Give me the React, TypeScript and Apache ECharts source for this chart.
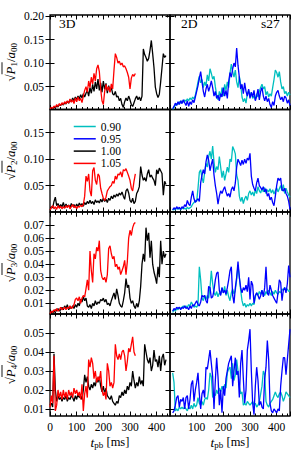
import React, { useEffect, useRef } from "react";
import * as echarts from "echarts";

// time sampling (ms)
const T_STEP = 5;
const LEFT_T0 = 0;   // 3D runs start
const RIGHT_T0 = 10; // 2D runs start

// x-axis tick labels
const X_TICKS = [0, 100, 200, 300, 400];
const LEGEND_NAMES = ["0.90", "0.95", "1.00", "1.05"];

// ---- Row 1: sqrt(P1)/a00 ----
const P1_100 = [
  0.002, 0.004, 0.003, 0.006, 0.005, 0.009, 0.007, 0.012, 0.010, 0.014, 0.011, 0.016, 0.013,
  0.019, 0.015, 0.022, 0.018, 0.026, 0.020, 0.028, 0.022, 0.030, 0.024, 0.033, 0.026, 0.035, 0.028, 0.036,
  0.042, 0.030, 0.048, 0.036, 0.055, 0.040, 0.060, 0.045, 0.066, 0.042, 0.058, 0.038, 0.062, 0.044, 0.057, 0.036, 0.052, 0.040, 0.048, 0.035,
  0.032, 0.040, 0.028, 0.030, 0.020, 0.025, 0.012, 0.006,
  0.018, 0.026, 0.020, 0.030, 0.022, 0.012, 0.008, 0.016, 0.024, 0.030, 0.022, 0.028, 0.020, 0.030,
  0.130, 0.118, 0.112, 0.104, 0.110, 0.127, 0.148, 0.120, 0.090, 0.049, 0.035, 0.027, 0.034, 0.060, 0.090, 0.120, 0.112, 0.116,
];
const P1_105 = [
  0.003, 0.006, 0.004, 0.009, 0.006, 0.012, 0.008, 0.014, 0.010, 0.016, 0.012, 0.018, 0.014,
  0.020, 0.015, 0.024, 0.017, 0.022, 0.014, 0.026, 0.018, 0.028, 0.020, 0.025, 0.016, 0.030,
  0.042, 0.050, 0.038, 0.062, 0.048, 0.070, 0.056, 0.078, 0.062, 0.088, 0.096, 0.082, 0.045,
  0.020, 0.012, 0.040, 0.055, 0.042, 0.050, 0.038, 0.056, 0.045, 0.085,
  0.120, 0.112, 0.100, 0.104, 0.096, 0.100, 0.092, 0.094, 0.088, 0.080, 0.070, 0.045, 0.068, 0.076, 0.072, 0.078,
];
const P1_095 = [
  0.003, 0.008, 0.015, 0.010, 0.018, 0.012, 0.020, 0.014, 0.022,
  0.016, 0.010, 0.020, 0.008, 0.018, 0.012, 0.022, 0.016, 0.028, 0.040,
  0.052, 0.068, 0.082, 0.060, 0.040, 0.028, 0.045, 0.055, 0.040, 0.050,
  0.062, 0.048, 0.030, 0.040, 0.025, 0.032, 0.020, 0.035, 0.028, 0.048,
  0.030, 0.042, 0.025, 0.060, 0.080, 0.070, 0.088, 0.100, 0.092, 0.132,
  0.095, 0.070, 0.045, 0.055, 0.035, 0.058, 0.040, 0.030, 0.045, 0.025,
  0.038, 0.028, 0.042, 0.020, 0.030, 0.045, 0.022, 0.040, 0.048, 0.030,
  0.020, 0.030, 0.018, 0.025, 0.012, 0.006, 0.018, 0.010, 0.030, 0.038,
  0.042, 0.030, 0.022, 0.028, 0.018, 0.030, 0.026, 0.015, 0.022, 0.010,
];
const P1_090 = [
  0.002, 0.006, 0.010, 0.014, 0.012, 0.018, 0.015, 0.020, 0.017,
  0.022, 0.019, 0.024, 0.020, 0.026, 0.022, 0.028, 0.024, 0.032, 0.045,
  0.060, 0.072, 0.058, 0.065, 0.048, 0.060, 0.052, 0.075, 0.062, 0.088,
  0.078, 0.066, 0.072, 0.050, 0.032, 0.022, 0.040, 0.028, 0.048, 0.030,
  0.055, 0.042, 0.060, 0.048, 0.078, 0.098, 0.082, 0.070, 0.085, 0.060,
  0.048, 0.072, 0.055, 0.028, 0.018, 0.025, 0.015, 0.035, 0.042, 0.030,
  0.038, 0.025, 0.030, 0.022, 0.035, 0.028, 0.040, 0.048, 0.055, 0.045,
  0.050, 0.032, 0.040, 0.028, 0.035, 0.030, 0.048, 0.065, 0.085, 0.080,
  0.070, 0.082, 0.060, 0.045, 0.050, 0.035, 0.040, 0.030, 0.038, 0.032,
];

// ---- Row 2: sqrt(P2)/a00 ----
const P2_100 = [
  0.003, 0.010, 0.008, 0.020, 0.028, 0.012, 0.016, 0.009, 0.014, 0.010,
  0.018, 0.008, 0.015, 0.010, 0.013, 0.008, 0.016, 0.011, 0.014, 0.009,
  0.015, 0.010, 0.017, 0.012, 0.016, 0.011, 0.018, 0.014, 0.020, 0.016,
  0.022, 0.016, 0.020, 0.014, 0.023, 0.018, 0.021, 0.017, 0.024, 0.019,
  0.026, 0.020, 0.024, 0.018, 0.026, 0.022, 0.030, 0.025, 0.032, 0.028,
  0.034, 0.030, 0.036, 0.032, 0.038, 0.030, 0.024, 0.040, 0.044, 0.036,
  0.022, 0.018, 0.026, 0.016, 0.020, 0.035, 0.040, 0.048, 0.086, 0.070,
  0.060, 0.065, 0.058, 0.072, 0.080, 0.066, 0.070, 0.064, 0.060, 0.050,
  0.080, 0.072, 0.083, 0.078, 0.073, 0.032, 0.058, 0.052,
];
const P2_105 = [
  0.004, 0.008, 0.012, 0.006, 0.010, 0.005, 0.012, 0.007, 0.011, 0.006, 0.010, 0.007, 0.012,
  0.008, 0.013, 0.006, 0.010, 0.014, 0.008, 0.012, 0.006, 0.011, 0.009, 0.013, 0.010, 0.014,
  0.030, 0.068, 0.058, 0.072, 0.040, 0.030, 0.078, 0.084, 0.060, 0.052, 0.072, 0.068, 0.045,
  0.035, 0.026, 0.022, 0.028, 0.040, 0.044, 0.048, 0.050, 0.058, 0.054, 0.068, 0.062, 0.072,
  0.070, 0.076, 0.066, 0.080, 0.078, 0.082, 0.075, 0.068, 0.060, 0.045, 0.040, 0.058, 0.072,
];
const P2_095 = [
  0.004, 0.008, 0.005, 0.010, 0.006, 0.009, 0.005, 0.010, 0.007,
  0.014, 0.010, 0.022, 0.015, 0.012, 0.028, 0.040, 0.025, 0.018, 0.022,
  0.025, 0.020, 0.055, 0.070, 0.080, 0.072, 0.095, 0.108, 0.098, 0.078,
  0.090, 0.100, 0.070, 0.050, 0.035, 0.015, 0.030, 0.040, 0.035, 0.042,
  0.048, 0.038, 0.030, 0.035, 0.028, 0.042, 0.048, 0.040, 0.055, 0.085,
  0.100, 0.094, 0.088, 0.098, 0.090, 0.100, 0.092, 0.102, 0.098, 0.111,
  0.068, 0.052, 0.045, 0.040, 0.055, 0.064, 0.050, 0.046, 0.042, 0.048,
  0.038, 0.044, 0.030, 0.035, 0.023, 0.028, 0.018, 0.012, 0.030, 0.050,
  0.064, 0.060, 0.064, 0.042, 0.040, 0.045, 0.035, 0.030, 0.020, 0.005,
];
const P2_090 = [
  0.003, 0.006, 0.004, 0.008, 0.005, 0.007, 0.004, 0.008, 0.006,
  0.007, 0.005, 0.009, 0.006, 0.008, 0.010, 0.015, 0.018, 0.022, 0.020,
  0.045, 0.075, 0.080, 0.065, 0.055, 0.075, 0.092, 0.085, 0.105, 0.115,
  0.100, 0.125, 0.095, 0.075, 0.086, 0.080, 0.105, 0.085, 0.065, 0.078,
  0.060, 0.072, 0.085, 0.075, 0.100, 0.095, 0.124, 0.118, 0.110, 0.070,
  0.060, 0.030, 0.020, 0.028, 0.016, 0.025, 0.030, 0.022, 0.035, 0.040,
  0.032, 0.038, 0.030, 0.042, 0.035, 0.048, 0.040, 0.036, 0.045, 0.038,
  0.046, 0.035, 0.042, 0.038, 0.044, 0.036, 0.042, 0.034, 0.040, 0.046,
  0.038, 0.044, 0.050, 0.040, 0.052, 0.035, 0.045, 0.038, 0.032, 0.028,
];

// ---- Row 3: sqrt(P3)/a00 ----
const P3_100 = [
  0.002, 0.003, 0.004, 0.003, 0.005, 0.004, 0.006, 0.004, 0.005, 0.007,
  0.005, 0.008, 0.006, 0.009, 0.005, 0.007, 0.006, 0.008, 0.006, 0.009,
  0.007, 0.010, 0.008, 0.013, 0.011, 0.015, 0.012, 0.014, 0.008, 0.007,
  0.009, 0.006, 0.010, 0.008, 0.012, 0.009, 0.011, 0.010, 0.013, 0.012,
  0.014, 0.011, 0.013, 0.009, 0.010, 0.008, 0.012, 0.015, 0.018, 0.013,
  0.021, 0.016, 0.010, 0.008, 0.007, 0.012, 0.018, 0.029, 0.022, 0.024,
  0.014, 0.010, 0.012, 0.008, 0.006, 0.010, 0.007, 0.012, 0.023, 0.040,
  0.048, 0.042, 0.068, 0.058, 0.064, 0.045, 0.058, 0.040, 0.034, 0.030,
  0.025, 0.038, 0.030, 0.058, 0.040, 0.050, 0.045, 0.048,
];
const P3_105 = [
  0.002, 0.004, 0.003, 0.005, 0.004, 0.006, 0.004, 0.005, 0.007, 0.005, 0.006, 0.007, 0.005,
  0.007, 0.006, 0.008, 0.006, 0.007, 0.009, 0.013, 0.014, 0.012, 0.015, 0.010, 0.014, 0.016,
  0.015, 0.021, 0.028, 0.020, 0.050, 0.035, 0.026, 0.048, 0.044, 0.053, 0.050, 0.058, 0.035,
  0.030, 0.028, 0.030, 0.026, 0.032, 0.052, 0.054, 0.048, 0.044, 0.046, 0.038, 0.040, 0.036,
  0.038, 0.032, 0.035, 0.038, 0.043, 0.032, 0.042, 0.060, 0.066, 0.062, 0.068, 0.071, 0.072,
];
const P3_095 = [
  0.004, 0.006, 0.005, 0.007, 0.006, 0.007, 0.005, 0.007, 0.006,
  0.008, 0.006, 0.007, 0.005, 0.008, 0.006, 0.009, 0.008, 0.010, 0.012,
  0.009, 0.008, 0.011, 0.016, 0.015, 0.016, 0.012, 0.010, 0.023, 0.022,
  0.014, 0.015, 0.020, 0.028, 0.033, 0.034, 0.020, 0.016, 0.022, 0.018,
  0.020, 0.017, 0.022, 0.028, 0.035, 0.038, 0.016, 0.010, 0.022, 0.030,
  0.042, 0.030, 0.022, 0.018, 0.022, 0.020, 0.024, 0.019, 0.030, 0.013,
  0.027, 0.024, 0.010, 0.016, 0.018, 0.016, 0.013, 0.016, 0.020, 0.015,
  0.022, 0.038, 0.018, 0.016, 0.024, 0.020, 0.016, 0.014, 0.012, 0.010,
  0.018, 0.028, 0.026, 0.012, 0.020, 0.022, 0.018, 0.025, 0.039, 0.030,
];
const P3_090 = [
  0.003, 0.005, 0.004, 0.006, 0.005, 0.007, 0.006, 0.007, 0.008,
  0.007, 0.008, 0.007, 0.009, 0.008, 0.011, 0.009, 0.007, 0.008, 0.007,
  0.009, 0.038, 0.028, 0.014, 0.012, 0.016, 0.013, 0.016, 0.014, 0.022,
  0.035, 0.025, 0.018, 0.016, 0.019, 0.015, 0.018, 0.017, 0.022, 0.018,
  0.023, 0.016, 0.020, 0.015, 0.012, 0.018, 0.021, 0.017, 0.020, 0.028,
  0.039, 0.030, 0.020, 0.012, 0.008, 0.010, 0.007, 0.009, 0.008, 0.010,
  0.008, 0.010, 0.009, 0.015, 0.018, 0.016, 0.019, 0.017, 0.020, 0.018,
  0.016, 0.019, 0.017, 0.020, 0.018, 0.016, 0.019, 0.017, 0.020, 0.018,
  0.017, 0.019, 0.018, 0.021, 0.020, 0.022, 0.020, 0.021, 0.019, 0.020,
];

// ---- Row 4: sqrt(P4)/a00 ----
const P4_100 = [
  0.012, 0.013, 0.011, 0.039, 0.020, 0.014, 0.017, 0.015, 0.016, 0.014,
  0.016, 0.015, 0.017, 0.014, 0.016, 0.015, 0.017, 0.016, 0.014, 0.017,
  0.015, 0.018, 0.016, 0.017, 0.015, 0.020, 0.028, 0.024, 0.027, 0.022,
  0.020, 0.023, 0.021, 0.024, 0.022, 0.026, 0.024, 0.027, 0.022, 0.019,
  0.022, 0.018, 0.021, 0.017, 0.016, 0.015, 0.017, 0.014, 0.013, 0.012,
  0.014, 0.013, 0.017, 0.016, 0.019, 0.017, 0.020, 0.018, 0.022, 0.020,
  0.024, 0.022, 0.030, 0.025, 0.021, 0.024, 0.022, 0.027, 0.023, 0.025,
  0.022, 0.044, 0.040, 0.036, 0.034, 0.037, 0.030, 0.033, 0.041, 0.035,
  0.036, 0.032, 0.038, 0.030, 0.037, 0.039, 0.033, 0.036,
];
const P4_105 = [
  0.011, 0.017, 0.013, 0.038, 0.009, 0.012, 0.020, 0.016, 0.019, 0.015, 0.020, 0.016, 0.019,
  0.015, 0.020, 0.017, 0.019, 0.016, 0.021, 0.018, 0.020, 0.017, 0.019, 0.015, 0.023, 0.009,
  0.018, 0.022, 0.016, 0.036, 0.032, 0.037, 0.034, 0.026, 0.030, 0.024, 0.027, 0.025, 0.030,
  0.020, 0.017, 0.019, 0.015, 0.034, 0.030, 0.022, 0.024, 0.021, 0.024, 0.044, 0.038, 0.036,
  0.039, 0.036, 0.040, 0.041, 0.038, 0.030, 0.035, 0.042, 0.040, 0.044, 0.048, 0.040, 0.038,
];
const P4_095 = [
  0.008, 0.009, 0.012, 0.016, 0.017, 0.011, 0.015, 0.014, 0.016,
  0.010, 0.016, 0.017, 0.010, 0.015, 0.023, 0.025, 0.014, 0.020, 0.024,
  0.029, 0.018, 0.010, 0.018, 0.020, 0.016, 0.032, 0.031, 0.036, 0.041,
  0.034, 0.027, 0.010, 0.025, 0.037, 0.027, 0.012, 0.020, 0.008, 0.022,
  0.017, 0.026, 0.030, 0.034, 0.036, 0.038, 0.022, 0.030, 0.037, 0.028,
  0.030, 0.016, 0.034, 0.041, 0.026, 0.013, 0.020, 0.041, 0.046, 0.052,
  0.030, 0.013, 0.007, 0.022, 0.032, 0.025, 0.012, 0.014, 0.011, 0.010,
  0.026, 0.032, 0.046, 0.036, 0.013, 0.009, 0.008, 0.010, 0.009, 0.008,
  0.010, 0.009, 0.022, 0.030, 0.037, 0.037, 0.028, 0.036, 0.044, 0.052,
];
const P4_090 = [
  0.029, 0.024, 0.009, 0.010, 0.009, 0.011, 0.010, 0.011, 0.010,
  0.011, 0.010, 0.009, 0.011, 0.010, 0.012, 0.010, 0.013, 0.011, 0.012,
  0.016, 0.013, 0.012, 0.014, 0.012, 0.015, 0.016, 0.015, 0.020, 0.029,
  0.027, 0.016, 0.018, 0.017, 0.020, 0.018, 0.021, 0.019, 0.022, 0.020,
  0.023, 0.021, 0.029, 0.031, 0.032, 0.026, 0.034, 0.025, 0.028, 0.036,
  0.030, 0.022, 0.018, 0.019, 0.012, 0.013, 0.012, 0.014, 0.013, 0.012,
  0.013, 0.014, 0.012, 0.013, 0.011, 0.012, 0.014, 0.018, 0.022, 0.030,
  0.028, 0.014, 0.012, 0.011, 0.013, 0.014, 0.015, 0.017, 0.019, 0.017,
  0.016, 0.018, 0.019, 0.017, 0.014, 0.016, 0.019, 0.018, 0.017, 0.016,
];

// y-axis tick labels per row
const Y_TICKS = [
  [0.05, 0.1, 0.15, 0.2],
  [0.05, 0.1, 0.15],
  [0.01, 0.02, 0.03, 0.04, 0.05, 0.06, 0.07],
  [0.01, 0.02, 0.03, 0.04, 0.05],
];
const Y_RANGES = [
  [0.0015, 0.202],
  [0, 0.194],
  [0.0018, 0.08],
  [0.0063, 0.06],
];

const ROWS = [
  { idx: "1", c090: P1_090, c095: P1_095, c100: P1_100, c105: P1_105 },
  { idx: "2", c090: P2_090, c095: P2_095, c100: P2_100, c105: P2_105 },
  { idx: "3", c090: P3_090, c095: P3_095, c100: P3_100, c105: P3_105 },
  { idx: "4", c090: P4_090, c095: P4_095, c100: P4_100, c105: P4_105 },
];

const COLORS: Record<string, string> = {
  "0.90": "#00bfbf",
  "0.95": "#0000ff",
  "1.00": "#000000",
  "1.05": "#ff0000",
};

// layout (px)
const COL_LEFT = [50, 170];
const COL_W = 120;
const ROW_TOP = [15, 109.5, 212, 314];
const ROW_H = [94.5, 102.5, 102, 102];

const FONT = "Liberation Serif";

function toPairs(t0: number, vals: number[]) {
  return vals.map((v, i) => [t0 + i * T_STEP, v]);
}

function buildOption() {
  const grid: any[] = [];
  const xAxis: any[] = [];
  const yAxis: any[] = [];
  const series: any[] = [];

  const tickStyle = { color: "#000", width: 1 };

  ROWS.forEach((row, r) => {
    [0, 1].forEach((c) => {
      const g = r * 2 + c;
      grid.push({
        left: COL_LEFT[c],
        top: ROW_TOP[r],
        width: COL_W,
        height: ROW_H[r],
        show: true,
        borderColor: "#000",
        borderWidth: 1.3,
        backgroundColor: "transparent",
      });
      const xBase = {
        gridIndex: g,
        type: "value",
        min: 0,
        max: 450,
        interval: 100,
        axisLine: { show: false },
        axisTick: { show: true, inside: true, length: 4.5, lineStyle: tickStyle },
        minorTick: { show: true, splitNumber: 5, length: 2.5, lineStyle: tickStyle },
        splitLine: { show: false },
        minorSplitLine: { show: false },
      };
      const isBottom = r === 3;
      xAxis.push({
        ...xBase,
        position: "bottom",
        axisLabel: {
          show: isBottom,
          margin: 5,
          fontFamily: FONT,
          fontSize: 11.5,
          color: "#000",
          customValues: c === 0 ? X_TICKS : X_TICKS.filter((v) => v !== 0),
          formatter: (v: number) => String(v),
        },
        name: isBottom ? "{i|t}{s|pb} [ms]" : "",
        nameLocation: "middle",
        nameGap: 19,
        nameTextStyle: {
          fontFamily: FONT,
          fontSize: 12.5,
          color: "#000",
          lineHeight: 14,
          rich: {
            i: { fontFamily: FONT, fontStyle: "italic", fontSize: 13.5, lineHeight: 14 },
            s: { fontFamily: FONT, fontSize: 9, lineHeight: 6, verticalAlign: "bottom" },
          },
        },
      });
      xAxis.push({ ...xBase, position: "top", axisLabel: { show: false } });

      const [ymin, ymax] = Y_RANGES[r];
      const yBase = {
        gridIndex: g,
        type: "value",
        min: ymin,
        max: ymax,
        axisLine: { show: false },
        axisTick: { show: true, inside: true, length: 4.5, lineStyle: tickStyle, customValues: Y_TICKS[r] },
        splitLine: { show: false },
      };
      yAxis.push({
        ...yBase,
        position: "left",
        axisLabel: {
          show: c === 0,
          margin: 6,
          fontFamily: FONT,
          fontSize: 11.5,
          color: "#000",
          customValues: Y_TICKS[r],
          formatter: (v: number) => v.toFixed(2),
        },
        name:
          c === 0
            ? `{g| }{bar| }{h| }\n{t|√}{i|P}{s|${row.idx}}{t|/}{i|a}{s|00}`
            : "",
        nameLocation: "middle",
        nameRotate: 90,
        nameGap: 32,
        nameTextStyle: {
          color: "#000",
          fontFamily: FONT,
          fontSize: 13,
          lineHeight: 15,
          rich: {
            g: { width: 7, height: 1, lineHeight: 2, fontSize: 1 },
            bar: { width: 12, height: 0.9, lineHeight: 2, fontSize: 1, backgroundColor: "#000" },
            h: { width: 19, height: 1, lineHeight: 2, fontSize: 1 },
            t: { fontFamily: FONT, fontSize: 13, lineHeight: 15 },
            i: { fontFamily: FONT, fontStyle: "italic", fontSize: 13, lineHeight: 15 },
            s: { fontFamily: FONT, fontSize: 9, lineHeight: 7, verticalAlign: "bottom" },
          },
        },
      });
      yAxis.push({ ...yBase, position: "right", axisLabel: { show: false } });

      const lines =
        c === 0
          ? [
              ["1.00", LEFT_T0, row.c100],
              ["1.05", LEFT_T0, row.c105],
            ]
          : [
              ["0.90", RIGHT_T0, row.c090],
              ["0.95", RIGHT_T0, row.c095],
            ];
      lines.forEach(([name, t0, vals]: any) => {
        series.push({
          type: "line",
          name,
          xAxisIndex: g * 2,
          yAxisIndex: g * 2,
          data: toPairs(t0, vals),
          symbol: "none",
          showSymbol: false,
          clip: true,
          lineStyle: { color: COLORS[name], width: 1.3 },
          itemStyle: { color: COLORS[name] },
          emphasis: { disabled: true },
        });
      });
    });
  });

  return {
    animation: false,
    backgroundColor: "#fff",
    grid,
    xAxis,
    yAxis,
    series,
    legend: {
      data: LEGEND_NAMES,
      orient: "vertical",
      left: 68,
      top: 115.5,
      itemWidth: 22,
      itemHeight: 12,
      itemGap: 0.3,
      selectedMode: false,
      itemStyle: { opacity: 0 },
      lineStyle: { width: 1.5 },
      textStyle: { fontFamily: FONT, fontSize: 11.5, color: "#000", lineHeight: 12 },
    },
    graphic: [
      { type: "text", left: 59, top: 16, style: { text: "3D", fontFamily: FONT, fontSize: 13.5, fill: "#000" } },
      { type: "text", left: 181, top: 16, style: { text: "2D", fontFamily: FONT, fontSize: 13.5, fill: "#000" } },
      { type: "text", left: 261, top: 16, style: { text: "s27", fontFamily: FONT, fontSize: 13.5, fill: "#000" } },
    ],
  };
}

export default function App() {
  const ref = useRef<HTMLDivElement>(null);
  useEffect(() => {
    if (!ref.current) return;
    const chart = echarts.init(ref.current, undefined, { renderer: "svg" });
    chart.setOption(buildOption() as any);
    return () => chart.dispose();
  }, []);
  return (
    <div
      ref={ref}
      style={{ position: "fixed", left: 0, top: 0, width: 299, height: 453, background: "#fff" }}
    />
  );
}
